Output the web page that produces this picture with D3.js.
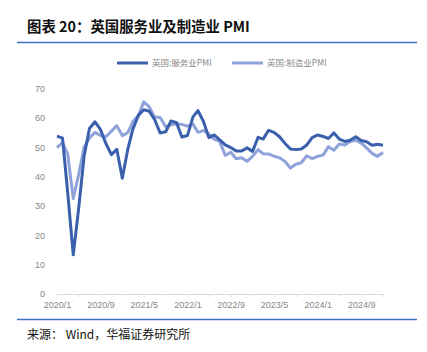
<!DOCTYPE html>
<html>
<head>
<meta charset="utf-8">
<script src="https://cdn.jsdelivr.net/npm/d3@7"></script>
<style>
  body { margin: 0; background: #fff; }
  svg { display: block; }
</style>
</head>
<body>
<svg id="chart"></svg>
<script>
// UK PMI, monthly 2020/1 - 2025/1
const services = [
  53.9, 53.2, 34.5, 13.4, 29.0, 47.1, 56.5, 58.8, 56.1, 51.4, 47.6, 49.4,
  39.5, 49.5, 56.3, 61.0, 62.9, 62.4, 59.6, 55.0, 55.4, 59.1, 58.5, 53.6,
  54.1, 60.5, 62.6, 58.9, 53.4, 54.3, 52.6, 50.9, 50.0, 48.8, 48.8, 49.9,
  48.7, 53.5, 52.9, 55.9, 55.2, 53.7, 51.5, 49.5, 49.3, 49.5, 50.9, 53.4,
  54.3, 53.8, 53.1, 55.0, 52.9, 52.1, 52.5, 53.7, 52.4, 52.0, 50.8, 51.1,
  50.8
];
const manufacturing = [
  50.0, 51.7, 47.8, 32.6, 40.7, 50.1, 53.3, 55.2, 54.1, 53.7, 55.6, 57.5,
  54.1, 55.1, 58.9, 60.9, 65.6, 63.9, 60.4, 60.3, 57.1, 57.8, 58.1, 57.9,
  57.3, 58.0, 55.2, 55.8, 54.6, 52.8, 52.1, 47.3, 48.4, 46.2, 46.5, 45.3,
  47.0, 49.3, 47.9, 47.8, 47.1, 46.5, 45.3, 43.0, 44.3, 44.8, 47.2, 46.2,
  47.0, 47.5, 50.3, 49.1, 51.2, 50.9, 52.1, 52.5, 51.5, 49.9, 48.0, 47.0,
  48.3
];
const seriesNames = ["英国:服务业PMI", "英国:制造业PMI"];
const yTicks = [0, 10, 20, 30, 40, 50, 60, 70];

const width = 427, height = 352;
const svg = d3.select("#chart").attr("width", width).attr("height", height);
const font = "'Liberation Sans', Arial, sans-serif";
const cjk = "'Noto Sans CJK SC', sans-serif";

// title
svg.append("text")
  .attr("x", 27).attr("y", 32)
  .style("font-family", cjk).style("font-size", "14.4px").style("font-weight", "bold")
  .style("fill", "#111")
  .text("图表 20：英国服务业及制造业 PMI");
svg.append("line").attr("x1", 17).attr("x2", 417).attr("y1", 42.5).attr("y2", 42.5)
  .style("stroke", "#3d6fc4").style("stroke-width", 1.3);

// footer
svg.append("line").attr("x1", 17).attr("x2", 417).attr("y1", 319.5).attr("y2", 319.5)
  .style("stroke", "#3d6fc4").style("stroke-width", 1.3);
svg.append("text")
  .attr("x", 27).attr("y", 339)
  .style("font-family", cjk).style("font-size", "12px").style("fill", "#111")
  .text("来源：  Wind，华福证券研究所");

const dates = services.map((d, i) => new Date(2020, i, 1));

const x = d3.scaleTime()
  .domain([new Date(2020, 0, 1), new Date(2025, 0, 1)])
  .range([57, 383]);
const y = d3.scaleLinear().domain([0, 70]).range([294, 89]);

// y tick labels
svg.append("g").selectAll("text").data(yTicks).join("text")
  .attr("x", 45).attr("y", d => y(d)).attr("dy", "0.35em")
  .style("text-anchor", "end")
  .style("font-family", font).style("font-size", "9px").style("fill", "#888")
  .text(d => d);

// x axis
const monthTicks = d3.range(0, 61, 4).map(i => new Date(2020, i, 1));
const xAxis = svg.append("g").attr("transform", "translate(0,294)")
  .call(d3.axisBottom(x)
    .tickValues(monthTicks)
    .tickSize(3)
    .tickFormat((d, i) => i % 2 === 0 ? `${d.getFullYear()}/${d.getMonth() + 1}` : ""));
xAxis.select(".domain").style("stroke", "#d9d9d9");
xAxis.selectAll(".tick line").style("stroke", "#d9d9d9");
xAxis.selectAll(".tick text")
  .attr("dy", "0.9em")
  .style("font-family", font).style("font-size", "9px").style("fill", "#888");

// lines
const colors = ["#3a5fad", "#8fa2d9"];
const line = d3.line()
  .x((d, i) => x(dates[i]))
  .y(d => y(d));

[manufacturing, services].forEach((s, k) => {
  svg.append("path")
    .datum(s)
    .attr("d", line)
    .style("fill", "none")
    .style("stroke", k === 0 ? colors[1] : colors[0])
    .style("stroke-width", 3)
    .style("stroke-linejoin", "round");
});

// legend
const legend = [
  { name: seriesNames[0], color: colors[0], x: 117 },
  { name: seriesNames[1], color: colors[1], x: 232 }
];
const lg = svg.append("g").selectAll("g").data(legend).join("g")
  .attr("transform", d => `translate(${d.x},63)`);
lg.append("line").attr("x1", 0).attr("x2", 31).attr("y1", 0).attr("y2", 0)
  .style("stroke", d => d.color).style("stroke-width", 3);
lg.append("text").attr("x", 35).attr("y", 0).attr("dy", "0.35em")
  .style("font-family", cjk).style("font-size", "8.5px").style("fill", "#888")
  .text(d => d.name);
</script>
</body>
</html>
